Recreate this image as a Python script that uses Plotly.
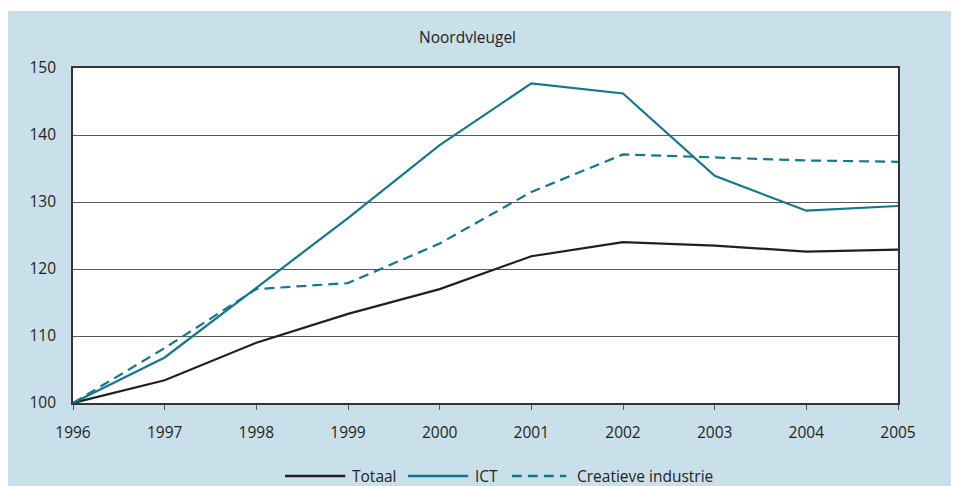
import plotly.graph_objects as go

years = [1996, 1997, 1998, 1999, 2000, 2001, 2002, 2003, 2004, 2005]
totaal = [100.0, 103.4, 109.0, 113.3, 117.0, 121.9, 124.0, 123.5, 122.6, 122.9]
ict = [100.0, 106.8, 117.2, 127.6, 138.5, 147.7, 146.2, 133.9, 128.7, 129.4]
creatief = [100.0, 108.2, 117.0, 117.9, 123.8, 131.5, 137.1, 136.7, 136.2, 136.0]
series_names = ["Totaal", "ICT", "Creatieve industrie"]
title_text = "Noordvleugel"

BLUE_BG = "#c9e0ea"
TEAL = "#13778f"
DARK = "#231f20"
FONT = "Open Sans"
FS = 15.5
DASH = "10px,6px"

fig = go.Figure()
fig.add_trace(go.Scatter(x=years, y=totaal, mode="lines", name=series_names[0],
                         line=dict(color=DARK, width=2.2)))
fig.add_trace(go.Scatter(x=years, y=ict, mode="lines", name=series_names[1],
                         line=dict(color=TEAL, width=2.2)))
fig.add_trace(go.Scatter(x=years, y=creatief, mode="lines", name=series_names[2],
                         line=dict(color=TEAL, width=2.2, dash=DASH)))

# thin white strip above the blue panel
fig.add_shape(type="rect", xref="paper", yref="paper", x0=-0.3, x1=1.2, y0=1.170, y1=1.4,
              fillcolor="white", line_width=0, layer="below")

# legend drawn as keys + labels below the plot
leg_y = -0.218
legend_items = [
    (series_names[0], DARK, "solid", 0.257, 0.330, 0.336),
    (series_names[1], TEAL, "solid", 0.406, 0.479, 0.485),
    (series_names[2], TEAL, DASH, 0.532, 0.598, 0.609),
]
annotations = [dict(text=title_text, xref="paper", yref="paper", x=0.478, y=1.0925,
                    xanchor="center", yanchor="middle", showarrow=False,
                    font=dict(size=FS, color=DARK))]
for name, col, dash, x0, x1, xt in legend_items:
    fig.add_shape(type="line", xref="paper", yref="paper", x0=x0, x1=x1, y0=leg_y, y1=leg_y,
                  line=dict(color=col, width=2.4, dash=dash))
    annotations.append(dict(text=name, xref="paper", yref="paper", x=xt, y=leg_y,
                            xanchor="left", yanchor="middle", showarrow=False,
                            font=dict(size=FS, color=DARK)))

fig.update_layout(
    width=959, height=486,
    margin=dict(l=65, r=69, t=60, b=91),
    paper_bgcolor=BLUE_BG,
    plot_bgcolor="white",
    font=dict(family=FONT, size=FS, color=DARK),
    showlegend=False,
    annotations=annotations,
)

fig.update_xaxes(range=[1996, 2005], tickmode="array", tickvals=years,
                 ticktext=[str(y) for y in years], showgrid=False, zeroline=False,
                 showline=True, linecolor="#333333", linewidth=1.6, mirror=True,
                 ticks="outside", ticklen=5, tickcolor="#555555", tickwidth=1,
                 ticklabelstandoff=10,
                 tickfont=dict(size=FS, color=DARK, family=FONT))
fig.update_yaxes(range=[100, 150], tickmode="array", tickvals=[100, 110, 120, 130, 140, 150],
                 showgrid=True, gridcolor="#5a5a5a", gridwidth=1, zeroline=False,
                 showline=True, linecolor="#333333", linewidth=1.6, mirror=True,
                 ticks="", ticklabelstandoff=12,
                 tickfont=dict(size=FS, color=DARK, family=FONT))

fig.write_html("out.html")
